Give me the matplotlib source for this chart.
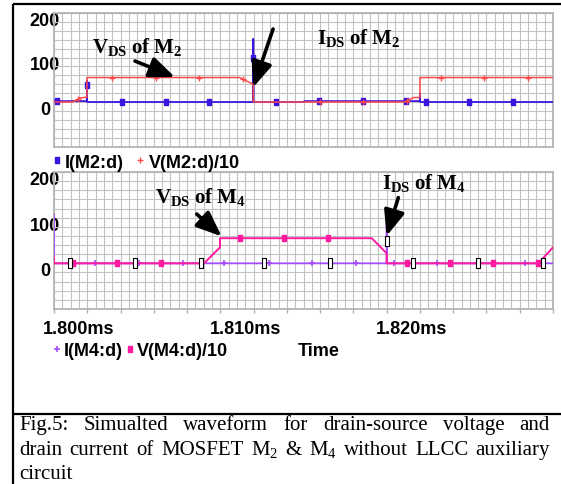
import numpy as np
import matplotlib
matplotlib.use('Agg')
import matplotlib.pyplot as plt
from matplotlib.ticker import MultipleLocator, FixedLocator, FuncFormatter
from matplotlib.transforms import ScaledTranslation
from matplotlib.lines import Line2D

# ---------------- data (time in ms) ----------------
t_m2_v = [1.80000, 1.80114, 1.80156, 1.80198, 1.80198, 1.81118, 1.81130, 1.81198, 1.81198,
          1.82110, 1.82160, 1.82200, 1.82200, 1.83000]
v_m2 = [0, 0, 9, 11, 55, 55, 52, 40, 0, 0, 10, 10, 55, 55]

t_m2_i = [1.80000, 1.80198, 1.80198, 1.80199, 1.81198, 1.81198, 1.81199, 1.81500, 1.81505,
          1.82200, 1.82200, 1.82201, 1.83000]
i_m2 = [2, 2, 48, 0, 0, 142, 0, 0, 2, 2, 20, 0, 0]

t_m4_v = [1.80000, 1.80000, 1.80902, 1.80998, 1.80998, 1.81910, 1.82000, 1.82000, 1.82912, 1.83000]
v_m4 = [13, 0, 0, 35, 55, 55, 22, 0, 0, 35]

t_m4_i = [1.80000, 1.80000, 1.82000, 1.82000, 1.82002, 1.83000]
i_m4 = [107, 0, 0, 107, 0, 0]

# times at which the simulator drew its trace symbols
mark_m2_i = [1.80018, 1.801982, 1.80409, 1.80673, 1.80932, 1.811983, 1.81335, 1.81593,
             1.81858, 1.82116, 1.82237, 1.82495, 1.82760]
mark_m2_v = [1.80144, 1.80349, 1.80613, 1.80872, 1.81136, 1.81599, 1.81858, 1.82122,
             1.82327, 1.82585, 1.82850]
mark_m4_v = [1.80114, 1.80379, 1.80643, 1.81118, 1.81383, 1.81647, 1.82122, 1.82380,
             1.82640, 1.82910]
mark_m4_i = [1.80246, 1.80510, 1.80776, 1.81022, 1.81290, 1.81551, 1.81816, 1.82044,
             1.82302, 1.82832]
mark_m4_box = [1.80096, 1.80487, 1.80884, 1.81263, 1.81659, 1.820011, 1.82158, 1.82549,
               1.82940]

yticks = [0, 100, 200]
xlabels_at = [1.800, 1.810, 1.820]
legend_top = ["I(M2:d)", "V(M2:d)/10"]
legend_bot = ["I(M4:d)", "V(M4:d)/10"]
caption_lines = ["Fig.5: Simualted waveform for drain-source voltage and",
                 "drain current of MOSFET M$_2$ & M$_4$ without LLCC auxiliary",
                 "circuit"]

C_I2 = '#3c14e0'
C_V2 = '#ff4a4a'
C_I4 = '#a64cff'
C_V4 = '#ff1aa0'

plt.rcParams['font.family'] = ['Liberation Sans', 'DejaVu Sans']
plt.rcParams['mathtext.fontset'] = 'custom'
plt.rcParams['mathtext.rm'] = 'Liberation Serif'
plt.rcParams['mathtext.bf'] = 'Liberation Serif:bold'
plt.rcParams['mathtext.it'] = 'Liberation Serif:italic'

W, H = 561, 485
fig = plt.figure(figsize=(W / 100, H / 100), dpi=100)


def rect(l, t, r, b):
    return [l / W, 1 - b / H, (r - l) / W, (b - t) / H]


ax1 = fig.add_axes(rect(54, 14, 553, 147.5))
ax2 = fig.add_axes(rect(54, 173, 553, 310))

fmt = FuncFormatter(lambda v, p: (f"{v:.3f}ms" if min(abs(v - a) for a in xlabels_at) < 1e-7 else ""))

for ax in (ax1, ax2):
    ax.set_xlim(1.800, 1.830)
    ax.set_ylim(-100, 200)
    ax.xaxis.set_major_locator(MultipleLocator(0.002))
    ax.xaxis.set_minor_locator(MultipleLocator(0.0005))
    ax.xaxis.set_major_formatter(fmt)
    ax.yaxis.set_major_locator(FixedLocator(yticks))
    ax.yaxis.set_minor_locator(MultipleLocator(20))
    ax.grid(which='both', color='#c2c2c2', lw=0.8)
    ax.set_axisbelow(True)
    for s in ax.spines.values():
        s.set_color('#b4b4b4')
        s.set_linewidth(1.3)
    ax.tick_params(axis='y', which='both', length=0, pad=6.5, labelsize=13)
    ax.tick_params(axis='x', which='minor', length=0)
    off = ScaledTranslation(0, -0.055, fig.dpi_scale_trans)
    for lab in ax.get_yticklabels():
        lab.set_fontweight('bold')
        lab.set_horizontalalignment('center')
        lab.set_transform(lab.get_transform() + off)

ax1.tick_params(axis='x', which='major', length=0, labelbottom=False)
ax2.tick_params(axis='x', which='major', length=3, width=1.0, color='#b0b0b0',
                pad=5, labelsize=13)
xoff = ScaledTranslation(0.25, 0, fig.dpi_scale_trans)
for lab in ax2.get_xticklabels():
    lab.set_fontweight('bold')
    lab.set_transform(lab.get_transform() + xoff)

rect_marker = [(-1, -2), (1, -2), (1, 2), (-1, 2), (-1, -2)]

# top plot
ax1.plot(t_m2_i, i_m2, color=C_I2, lw=1.3, zorder=3)
ax1.plot(mark_m2_i, np.interp(mark_m2_i, t_m2_i, i_m2), ls='none', marker=rect_marker,
         ms=4.5, color=C_I2, mec=C_I2, zorder=3.5)
ax1.plot(t_m2_v, v_m2, color=C_V2, lw=1.1, zorder=4)
ax1.plot(mark_m2_v, np.interp(mark_m2_v, t_m2_v, v_m2), ls='none', marker='+', ms=5,
         mew=1.0, color=C_V2, zorder=4.5)

# bottom plot
ax2.plot(t_m4_i, i_m4, color=C_I4, lw=1.3, zorder=3)
ax2.plot(mark_m4_i, np.interp(mark_m4_i, t_m4_i, i_m4), ls='none', marker='+', ms=4,
         mew=1.2, color=C_I4, zorder=3.5)
ax2.plot(t_m4_v, v_m4, color=C_V4, lw=1.4, zorder=4)
ax2.plot(mark_m4_v, np.interp(mark_m4_v, t_m4_v, v_m4), ls='none', marker=rect_marker,
         ms=4.5, color=C_V4, mec=C_V4, zorder=4.5)
ax2.plot(mark_m4_box, np.interp(mark_m4_box, t_m4_i, i_m4), ls='none', marker=rect_marker,
         ms=6.5, mfc='white', mec='black', mew=0.8, zorder=6)

# annotations
aprops = dict(arrowstyle='-|>,head_length=1.1,head_width=0.45', lw=2.6, color='black',
              mutation_scale=14, shrinkA=0, shrinkB=0)
tkw = dict(fontsize=15, color='black', va='baseline', ha='left')
ax1.text(1.80228, 112, r"$\mathbf{V_{DS}\ of\ M_2}$", **tkw, zorder=8)
ax1.text(1.81581, 133, r"$\mathbf{I_{DS}\ of\ M_2}$", **tkw, zorder=8)
ax1.annotate('', xy=(1.80727, 56), xytext=(1.80487, 92), arrowprops=aprops, zorder=8)
ax1.annotate('', xy=(1.81198, 33), xytext=(1.81317, 164), arrowprops=aprops, zorder=8,
             annotation_clip=False)
ax2.text(1.80607, 134, r"$\mathbf{V_{DS}\ of\ M_4}$", **tkw, zorder=8)
ax2.text(1.81972, 165, r"$\mathbf{I_{DS}\ of\ M_4}$", **tkw, zorder=8)
ax2.annotate('', xy=(1.81008, 59), xytext=(1.80858, 108), arrowprops=aprops, zorder=8)
ax2.annotate('', xy=(1.82000, 60), xytext=(1.82070, 144), arrowprops=aprops, zorder=8)

# legends
lp = dict(family='Liberation Sans', weight='bold', size=13)
h_top = [Line2D([], [], ls='none', color=C_I2, marker=rect_marker, ms=4.5, mec=C_I2),
         Line2D([], [], ls='none', color=C_V2, marker='+', ms=5, mew=1.0)]
fig.legend(h_top, legend_top, loc='center left', bbox_to_anchor=(51.6 / W, 1 - 163 / H),
           ncol=2, frameon=False, handlelength=0.6, handletextpad=0.15, columnspacing=0.6,
           borderpad=0, borderaxespad=0, prop=lp)
h_bot = [Line2D([], [], ls='none', color=C_I4, marker='+', ms=4, mew=1.2),
         Line2D([], [], ls='none', color=C_V4, marker=rect_marker, ms=4.5, mec=C_V4)]
fig.legend(h_bot, legend_bot, loc='center left', bbox_to_anchor=(51.6 / W, 1 - 352 / H),
           ncol=2, frameon=False, handlelength=0.6, handletextpad=0.1, columnspacing=0.05,
           borderpad=0, borderaxespad=0, prop=lp)

ax2.set_xlabel('Time', fontsize=13, fontweight='bold', va='center')
ax2.xaxis.set_label_coords((319 - 54) / 499, (310 - 352) / 137)

# frame lines
fk = dict(transform=fig.transFigure, color='black', lw=1.6, solid_capstyle='butt')
fig.add_artist(Line2D([13 / W, 13 / W], [0, 1 - 5 / H], **fk))
fig.add_artist(Line2D([13 / W, 1], [1 - 5 / H, 1 - 5 / H], **fk))
fig.add_artist(Line2D([13 / W, 1], [1 - 415 / H, 1 - 415 / H], **fk))

# caption (justified)
renderer = fig.canvas.get_renderer()
cap_fs = 15
x0, x1 = 19, 550
baselines = [430, 455, 479]
for li, (line, yb) in enumerate(zip(caption_lines, baselines)):
    words = line.split()
    texts = [fig.text(0, 1 - yb / H, w, fontsize=cap_fs, family='Liberation Serif',
                      va='baseline', ha='left') for w in words]
    widths = [t.get_window_extent(renderer).width for t in texts]
    if li < len(caption_lines) - 1 and len(words) > 1:
        gap = (x1 - x0 - sum(widths)) / (len(words) - 1)
    else:
        gap = 5
    x = x0
    for t, w in zip(texts, widths):
        t.set_x(x / W)
        x += w + gap

fig.savefig('out.png', dpi=100)
